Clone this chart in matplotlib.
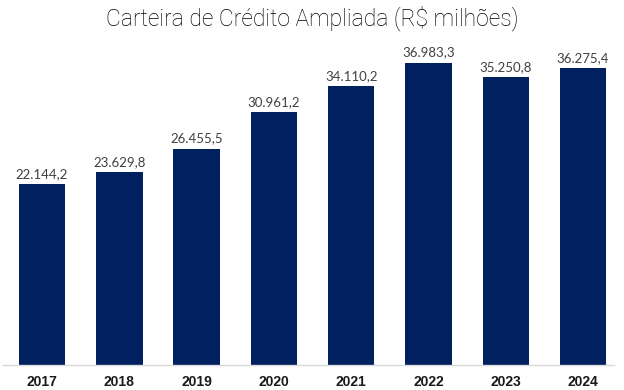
import matplotlib.pyplot as plt

anos = ['2017', '2018', '2019', '2020', '2021', '2022', '2023', '2024']
valores = [22144.2, 23629.8, 26455.5, 30961.2, 34110.2, 36983.3, 35250.8, 36275.4]
rotulos = ['22.144,2', '23.629,8', '26.455,5', '30.961,2',
           '34.110,2', '36.983,3', '35.250,8', '36.275,4']


def main():
    fig = plt.figure(figsize=(6.24, 3.9), dpi=100)
    # axes placed in pixel terms: baseline at y=365, left 3, right 614
    ax = fig.add_axes([3 / 624, (390 - 365) / 390, 611 / 624, 327 / 390])

    x = list(range(len(anos)))
    ax.bar(x, valores, width=0.6, color='#002060')

    for xi, v, lab in zip(x, valores, rotulos):
        ax.annotate(lab, xy=(xi, v), xytext=(0, 3), textcoords='offset points',
                    ha='center', va='bottom', fontsize=9.5, color='#404040',
                    family='Lato')

    ax.set_xlim(-0.505, 7.40)
    ax.set_ylim(0, 40000)
    ax.set_xticks(x)
    ax.set_xticklabels(anos, fontsize=10, fontweight='bold',
                       family='Liberation Sans', color='#1a1a1a')
    ax.tick_params(axis='x', length=0, pad=7)
    ax.set_yticks([])

    for s in ['top', 'right', 'left']:
        ax.spines[s].set_visible(False)
    ax.spines['bottom'].set_color('#d9d9d9')
    ax.spines['bottom'].set_linewidth(1)

    fig.text(0.5, 1 - 18 / 390, 'Carteira de Crédito Ampliada (R$ milhões)',
             ha='center', va='center', fontsize=16.5, family='Roboto',
             fontweight='light', color='#000000')

    plt.savefig('out.png', dpi=100)


if __name__ == '__main__':
    main()
